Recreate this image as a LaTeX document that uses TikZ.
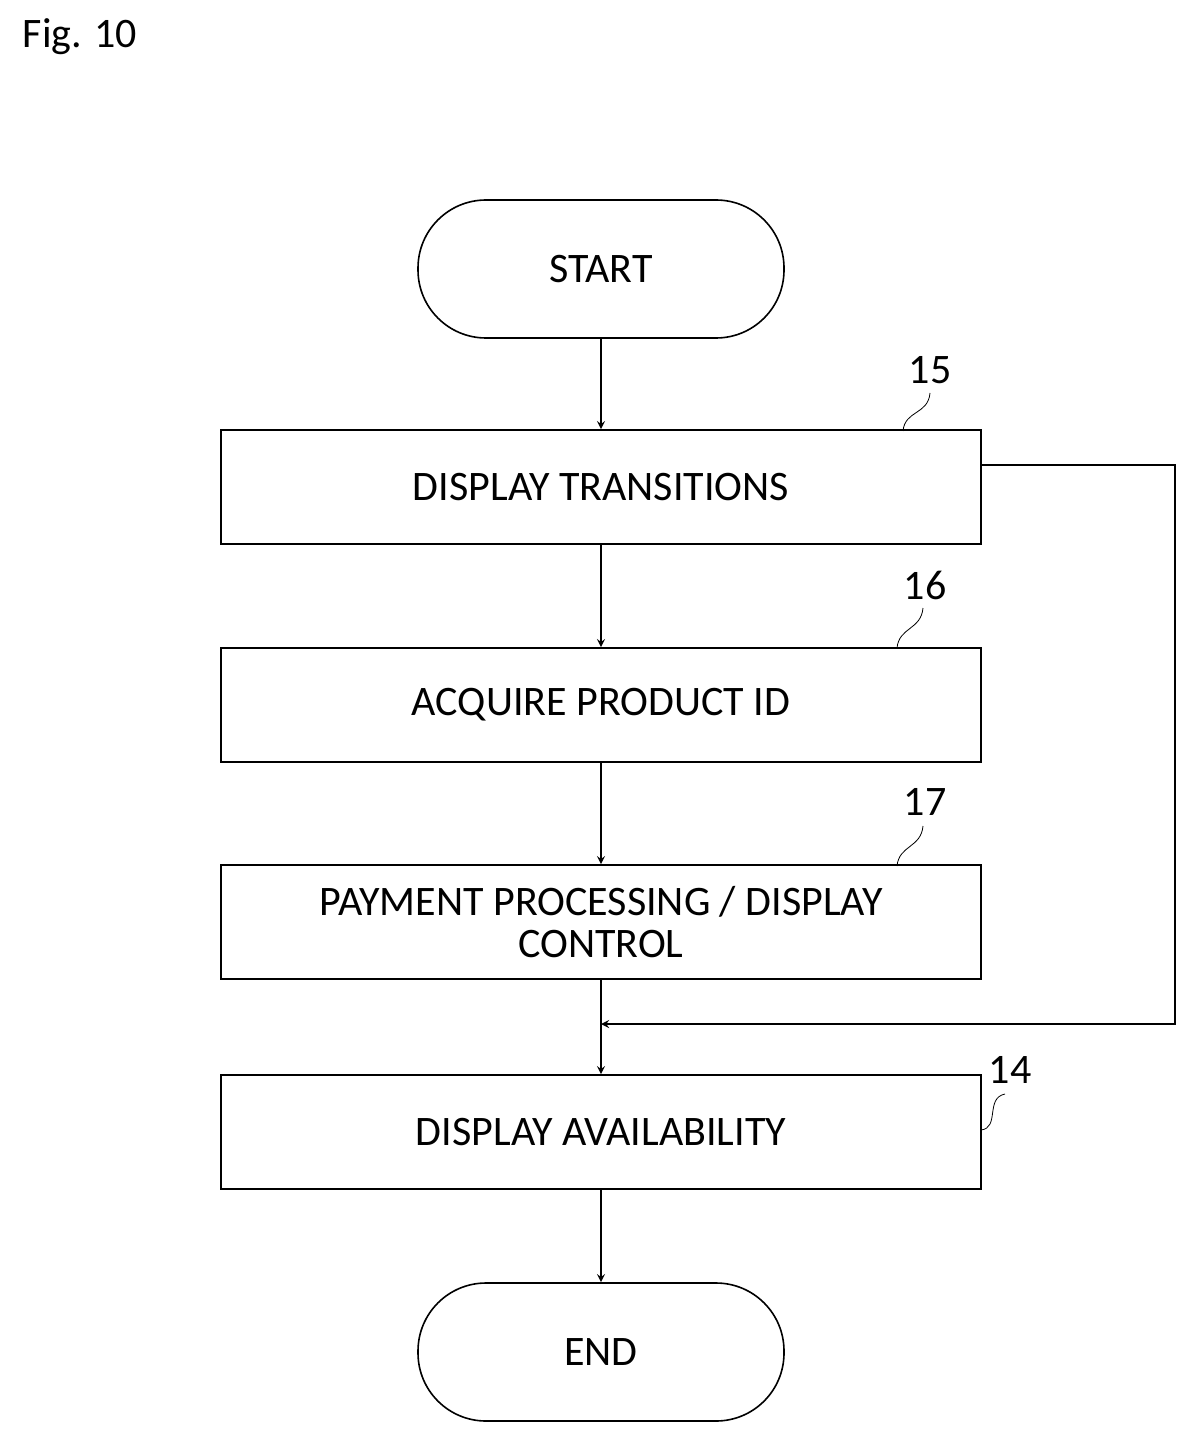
\documentclass[tikz,border=0pt]{standalone}
\usepackage{fontspec}
\setmainfont{Carlito}
\usetikzlibrary{positioning}
\tikzset{
  box/.style = {draw, thick, minimum width = 380pt, minimum height = 57pt, align = center, font = \fontsize{21}{24}\selectfont, inner sep = 0pt},
  term/.style = {draw, thick, rounded corners = 34pt, minimum width = 183pt, minimum height = 69pt, font = \fontsize{21}{24}\selectfont},
  ref/.style = {font = \fontsize{21}{24}\selectfont},
  flow/.style = {thick, ->, >=stealth}
}
\begin{document}
\begin{tikzpicture}[x = 0.5pt, y = -0.5pt]
\useasboundingbox (0, 0) rectangle (1200, 1444);
\node[ref] (fig) at (80, 37) {Fig. 10};
\node[term] (start) at (601, 269) {START};
\node[box] (transitions) at (601, 487) {DISPLAY TRANSITIONS};
\node[box] (product) at (601, 705) {ACQUIRE PRODUCT ID};
\node[box] (payment) at (601, 922) {PAYMENT PROCESSING / DISPLAY\\[-3pt] CONTROL};
\node[box] (avail) at (601, 1132) {DISPLAY AVAILABILITY};
\node[term] (end) at (601, 1352) {END};
\coordinate (join) at (601, 1024);
\draw[flow] (start) -- (transitions);
\draw[flow] (transitions) -- (product);
\draw[flow] (product) -- (payment);
\draw[flow] (payment) -- (avail);
\draw[flow] (avail) -- (end);
\draw[flow] (transitions.east |- 0, 465) -- (1175, 465) -- (1175, 1024) -- (join);
% reference numerals
\node[ref] (n15) at (930, 370) {15};
\node[ref] (n16) at (925, 585) {16};
\node[ref] (n17) at (925, 802) {17};
\node[ref] (n14) at (1010, 1070) {14};
\draw (903, 431) .. controls (905, 410) and (928, 415) .. (930, 393);
\draw (897, 648) .. controls (899, 627) and (921, 630) .. (923, 608);
\draw (897, 866) .. controls (899, 845) and (921, 848) .. (923, 826);
\draw (981, 1130) .. controls (1000, 1128) and (985, 1098) .. (1005, 1094);
\end{tikzpicture}
\end{document}
